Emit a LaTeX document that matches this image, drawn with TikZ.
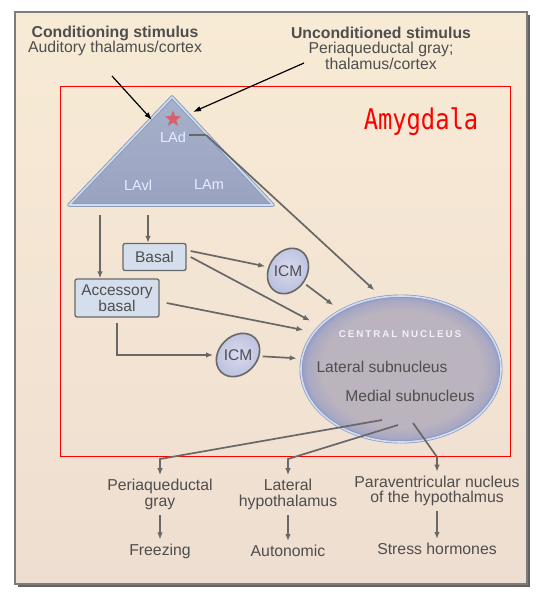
\documentclass[tikz,border=0pt]{standalone}
\usepackage{fontspec}
\setmainfont{Liberation Sans}
\newfontfamily\amyfont{DejaVu Sans Mono}
\usetikzlibrary{shapes.geometric,arrows.meta,calc}
\definecolor{bgtop}{HTML}{F8EBD5}
\definecolor{bgbot}{HTML}{EEDED1}
\definecolor{ln}{HTML}{686868}
\definecolor{tx}{HTML}{4E4E4E}
\definecolor{frm}{HTML}{7C7C7C}
\definecolor{trifill}{HTML}{A8B1CA}
\definecolor{trifillb}{HTML}{99A2C0}
\definecolor{triedge}{HTML}{8D9CBB}
\definecolor{tririm}{HTML}{D0DDEE}
\definecolor{boxfill}{HTML}{D5DEEC}
\definecolor{icmin}{HTML}{D8DAEC}
\definecolor{icmout}{HTML}{BCC1DF}
\definecolor{cnin}{HTML}{BBB3BE}
\definecolor{cnout}{HTML}{939CC8}
\definecolor{cnrim}{HTML}{D2DDEF}
\definecolor{cnedge}{HTML}{8B97C3}
\definecolor{starred}{HTML}{D8606A}
\definecolor{amyred}{HTML}{FF0000}
\pgfdeclareradialshading{cnshade}{\pgfpoint{0bp}{0bp}}{color(0bp)=(cnin); color(20bp)=(cnin); color(23.5bp)=(cnin!55!cnout); color(25bp)=(cnout); color(50bp)=(cnout)}
\begin{document}
\begin{tikzpicture}[x=1pt,y=-1pt,
  lbl/.style={text=tx, font=\fontsize{15.8}{15.5}\selectfont, align=center, inner sep=2pt},
  trilbl/.style={text=white!92!blue, font=\fontsize{14.5}{15}\selectfont, inner sep=1pt},
  garrow/.style={draw=ln, line width=1.7pt, -{Latex[length=7pt,width=5.5pt]}},
  gline/.style={draw=ln, line width=1.7pt},
  karrow/.style={draw=black, line width=1.2pt, -{Latex[length=8pt,width=5.5pt]}},
  regbox/.style={draw=ln, line width=1.3pt, fill=boxfill, rounded corners=2pt, text=tx,
     font=\fontsize{15.5}{15.5}\selectfont, align=center, inner sep=0pt},
  icmshape/.style={ellipse, draw=ln, line width=1.6pt, inner color=icmin, outer color=icmout,
     minimum width=48pt, minimum height=38pt, inner sep=0pt},
  icmtext/.style={text=tx, font=\fontsize{15.5}{15.5}\selectfont, inner sep=0pt}
]
\useasboundingbox (0,0) rectangle (546,597);
\fill[white] (0,0) rectangle (546,597);
% frame with shadow
\fill[frm!80!black] (18,15) rectangle (530,587);
\shade[top color=bgtop, bottom color=bgbot] (15,12) rectangle (527,584);
\draw[frm, line width=1.5pt] (15,12) rectangle (527,584);
% red amygdala rectangle
\draw[amyred, line width=1pt] (60,86) rectangle (510,456);
\node[text=amyred, inner sep=0pt] (amy) at (421,122) {\scalebox{0.95}[1.14]{\amyfont\fontsize{25}{25}\selectfont Amygdala}};

% stimuli
\node[lbl] (cs) at (115,41) {{\bfseries Conditioning stimulus}\\Auditory thalamus/cortex};
\node[lbl] (us) at (381,48) {{\bfseries Unconditioned stimulus}\\Periaqueductal gray;\\thalamus/cortex};

% lateral amygdala triangle
\coordinate (apex) at (172,97);
\coordinate (bl) at (69,205);
\coordinate (br) at (273,205);
\draw[triedge, line width=3.6pt, line join=round, top color=trifill, bottom color=trifillb] (apex) -- (bl) -- (br) -- cycle;
\draw[tririm, line width=1.6pt, line join=round] (apex) -- (bl) -- (br) -- cycle;
\node[star, star points=5, star point ratio=2.4, fill=starred, minimum size=17pt, inner sep=0pt] (star) at (173,119) {};
\node[trilbl] (lad) at (173,137) {LAd};
\node[trilbl] (lavl) at (138,185) {LAvl};
\node[trilbl] (lam) at (209,185) {LAm};

\coordinate (csstart) at (112,76);
\coordinate (usstart) at (304,63);
\coordinate (csend) at (152,120);
\coordinate (usend) at (193,112);
\draw[karrow] (csstart) -- (csend);
\draw[karrow] (usstart) -- (usend);

% basal nuclei
\node[regbox, minimum width=63pt, minimum height=27pt] (basal) at (154.5,257) {Basal};
\node[regbox, minimum width=84pt, minimum height=38pt] (acc) at (117,298) {Accessory\\basal};
\coordinate (t1) at (100,215);
\coordinate (t2) at (148,215);
\draw[garrow] (t1) -- (acc.north -| t1);
\draw[garrow] (t2) -- (basal.north -| t2);

% ICMs
\node[icmshape, rotate=58] (icm1) at (288,271) {};
\node[icmtext] at (icm1.center) {ICM};
\node[icmshape, rotate=45] (icm2) at (238,355) {};
\node[icmtext] at (icm2.center) {ICM};

% central nucleus
\node[ellipse, minimum width=200pt, minimum height=146pt, shading=cnshade, draw=cnedge, double=cnrim,
   double distance=1.6pt, line width=0.7pt] (cn) at (401,369) {};
\node[text=white!94!blue, font=\bfseries\fontsize{9.8}{10}\selectfont, inner sep=0pt] (cnt) at (400,334)
   {\addfontfeatures{LetterSpace=20}CENTRAL NUCLEUS};
\node[text=tx, font=\fontsize{15.6}{15}\selectfont, inner sep=0pt] (lat) at (382,367) {Lateral subnucleus};
\node[text=tx, font=\fontsize{15.6}{15}\selectfont, inner sep=0pt] (med) at (410,396) {Medial subnucleus};

% connectors into central nucleus
\draw[gline] (lad.east) ++(2,-2) coordinate (ladr) -- ++(17,0) coordinate (ladc);
\draw[garrow, shorten >=10pt] (ladc) -- (cn.105);
\draw[garrow, shorten >=3pt] ($(basal.east)+(4,-6)$) -- (icm1);
\draw[garrow, shorten >=11pt] ($(basal.east)+(4,0)$) -- (cn.152);
\draw[garrow, shorten <=3pt, shorten >=9pt] (icm1) -- (cn.136);
\draw[garrow, shorten >=11pt] ($(acc.east)+(7,5)$) -- (cn.157);
\draw[garrow, shorten >=3pt] ($(acc.south)+(0,5)$) |- (icm2);
\draw[garrow, shorten <=3pt, shorten >=5pt] (icm2) -- (cn.174);

% outputs
\node[lbl] (pag) at (160,494.5) {Periaqueductal\\gray};
\node[lbl] (lh) at (288,494.5) {Lateral\\hypothalamus};
\node[lbl] (pvn) at (437,491) {Paraventricular nucleus\\of the hypothalmus};
\node[lbl] (frz) at (160,551) {Freezing};
\node[lbl] (aut) at (288,551) {Autonomic};
\node[lbl] (str) at (437,549) {Stress hormones};

\coordinate (o1) at ($(cn.center)+(-19,51)$);
\coordinate (o2) at ($(cn.center)+(-3,56)$);
\coordinate (o3) at ($(cn.center)+(12,54)$);
\draw[garrow, shorten >=2pt] (o1) -- (160,459) -- (pag.north);
\draw[garrow, shorten >=2pt] (o2) -- (288,459) -- (lh.north);
\draw[garrow, shorten >=2pt] (o3) -- (437,457) -- (pvn.north);
\draw[garrow, shorten <=3pt, shorten >=2pt] (pag.south) -- (frz.north);
\draw[garrow, shorten <=3pt, shorten >=2pt] (lh.south) -- (aut.north);
\draw[garrow, shorten <=3pt, shorten >=2pt] (pvn.south) -- (str.north);
\end{tikzpicture}
\end{document}
